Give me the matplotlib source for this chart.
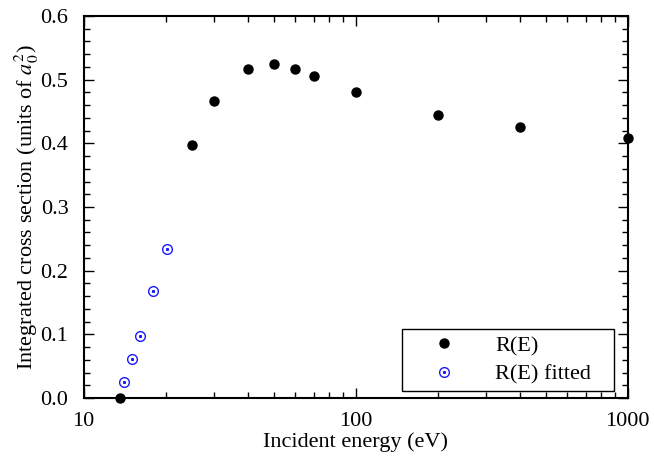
import numpy as np
import matplotlib.pyplot as plt
from matplotlib.ticker import MultipleLocator, FixedLocator, NullFormatter

plt.rcParams['font.family'] = ['Liberation Serif', 'DejaVu Serif']
plt.rcParams['mathtext.fontset'] = 'stix'

# R(E) data
energy = [13.6, 25, 30, 40, 50, 60, 70, 100, 200, 400, 1000]
cross = [0.0, 0.398, 0.466, 0.516, 0.525, 0.516, 0.506, 0.480, 0.444, 0.425, 0.408]

# fitted part near threshold
energy_fit = [14.1, 15.1, 16.1, 17.9, 20.2]
cross_fit = [0.025, 0.061, 0.097, 0.168, 0.234]

fig = plt.figure(figsize=(6.54, 4.62), dpi=100)
ax = fig.add_axes([0.128, 0.1385, 0.832, 0.827])

h1, = ax.plot(energy, cross, 'o', color='black', markersize=6.5, clip_on=False, zorder=5)
h2, = ax.plot(energy_fit, cross_fit, 'o', markerfacecolor='none', markeredgecolor='#1a1aff',
              markersize=7, markeredgewidth=1.0, clip_on=False, zorder=5)
h3, = ax.plot(energy_fit, cross_fit, 's', color='#1a1aff', markersize=1.2, zorder=5)

ax.set_xscale('log')
ax.set_xlim(10, 1000)
ax.set_ylim(0, 0.6)
ax.yaxis.set_major_locator(MultipleLocator(0.1))
ax.yaxis.set_minor_locator(MultipleLocator(0.02))
ax.yaxis.set_major_formatter(plt.FormatStrFormatter('%.1f'))
ax.xaxis.set_major_locator(FixedLocator([10, 100, 1000]))
ax.xaxis.set_major_formatter(plt.FuncFormatter(lambda v, p: f'{int(v)}'))
ax.xaxis.set_minor_locator(FixedLocator([m * d for d in (10, 100) for m in range(2, 10)]))
ax.xaxis.set_minor_formatter(NullFormatter())

ax.tick_params(which='both', direction='in', top=True, right=True, labelsize=16)
ax.tick_params(which='major', length=7, width=1)
ax.tick_params(which='minor', length=4, width=1)
ax.tick_params(axis='x', which='major', pad=10)
ax.tick_params(axis='y', which='major', pad=11)
for s in ax.spines.values():
    s.set_linewidth(1.5)

ax.set_xlabel('Incident energy (eV)', fontsize=16, labelpad=1)
ax.set_ylabel('Integrated cross section (units of $a_0^2$)', fontsize=16, labelpad=0)

leg = ax.legend([h1, (h2, h3)], ['R(E)', 'R(E) fitted'], loc='lower left',
                bbox_to_anchor=(0.585, 0.018, 0.39, 0.1), mode='expand', fontsize=16,
                fancybox=False, edgecolor='black', framealpha=1, handlelength=3.2,
                handletextpad=0.7, borderpad=0.3, labelspacing=0.35, borderaxespad=0)
leg.get_frame().set_linewidth(1.0)

fig.savefig('out.png', dpi=100)
